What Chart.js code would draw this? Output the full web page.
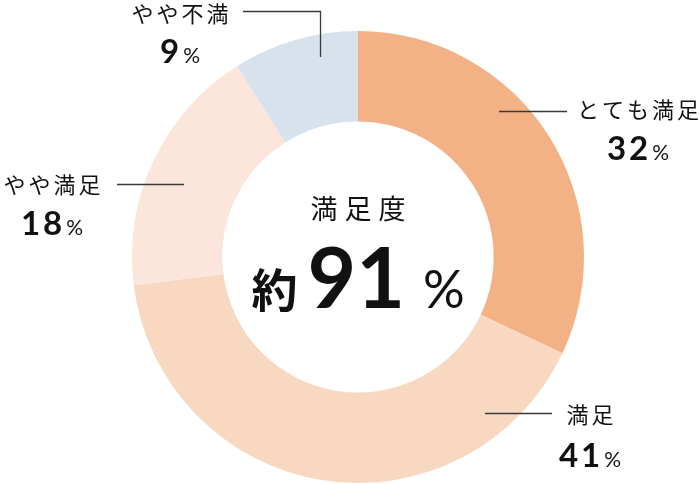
<!DOCTYPE html>
<html lang="ja">
<head>
<meta charset="utf-8">
<script src="https://cdn.jsdelivr.net/npm/chart.js@4.4.1/dist/chart.umd.min.js"></script>
<style>
  html, body { margin: 0; padding: 0; background: #fff; }
  #wrap { width: 700px; height: 484px; position: relative; }
</style>
</head>
<body>
<div id="wrap"><canvas id="myChart"></canvas></div>
<script>
const categories = ["とても満足", "満足", "やや満足", "やや不満"]
const percents = [32, 41, 18, 9]
const sliceColors = ["#F3B285", "#F8D8C1", "#FCE6DB", "#D8E2EC"]
const centerTitle = "満足度"
const centerPrefix = "約"
const centerValue = 91

const JP = '"Noto Sans CJK JP", "Noto Sans", sans-serif'
const NUM = 'Lato, "Noto Sans", sans-serif'

// callout placement: leader line path, label centre, number baseline
const callouts = [
  { line: [[499, 111.5], [567, 111.5]], cx: 638, cy: 110, numY: 160 },
  { line: [[485, 413.5], [552, 413.5]], cx: 590, cy: 415, numY: 467 },
  { line: [[117, 184.5], [184, 184.5]], cx: 52, cy: 185, numY: 235 },
  { line: [[243, 11.5], [320.5, 11.5], [320.5, 57]], cx: 180, cy: 14, numY: 63 },
]

// draw text char by char so spacing stays symmetric
function spacedWidth(ctx, text, ls) {
  let w = 0
  for (const ch of text) w += ctx.measureText(ch).width + ls
  return w - ls
}
function drawSpaced(ctx, text, x, y, ls) {
  for (const ch of text) {
    ctx.fillText(ch, x, y)
    x += ctx.measureText(ch).width + ls
  }
}

const calloutPlugin = {
  id: "callouts",
  afterDraw(chart) {
    const ctx = chart.ctx
    const meta = chart.getDatasetMeta(0)
    const cx0 = meta.data[0].x
    const cy0 = meta.data[0].y
    ctx.save()
    ctx.fillStyle = "#111"
    ctx.textAlign = "left"

    // leader lines + labels
    callouts.forEach((c, i) => {
      ctx.strokeStyle = "#3a3a3a"
      ctx.lineWidth = 1.3
      ctx.beginPath()
      c.line.forEach((p, j) => (j ? ctx.lineTo(p[0], p[1]) : ctx.moveTo(p[0], p[1])))
      ctx.stroke()

      ctx.textBaseline = "middle"
      ctx.font = "400 22px " + JP
      const lw = spacedWidth(ctx, categories[i], 3)
      drawSpaced(ctx, categories[i], c.cx - lw / 2, c.cy, 3)

      ctx.textBaseline = "alphabetic"
      const num = String(chart.data.datasets[0].data[i])
      ctx.font = "700 33px " + NUM
      const nw = spacedWidth(ctx, num, 3)
      ctx.font = "400 21px " + NUM
      const pw = ctx.measureText("%").width
      const gap = 4
      let x = c.cx - (nw + gap + pw) / 2
      ctx.font = "700 33px " + NUM
      drawSpaced(ctx, num, x, c.numY, 3)
      ctx.font = "400 21px " + NUM
      ctx.fillText("%", x + nw + gap, c.numY)
    })

    // centre text
    ctx.textBaseline = "middle"
    ctx.font = "400 27px " + JP
    const tw = spacedWidth(ctx, centerTitle, 7)
    drawSpaced(ctx, centerTitle, cx0 - tw / 2, cy0 - 48, 7)

    ctx.textBaseline = "alphabetic"
    const base = cy0 + 51
    ctx.font = "700 46px " + JP
    const aw = ctx.measureText(centerPrefix).width
    ctx.font = "700 84px " + NUM
    const vw = spacedWidth(ctx, String(centerValue), 0)
    ctx.font = "400 52px " + NUM
    const qw = ctx.measureText("%").width
    const g1 = 10, g2 = 18
    let x = cx0 - (aw + g1 + vw + g2 + qw) / 2
    ctx.font = "700 46px " + JP
    ctx.fillText(centerPrefix, x, base - 1)
    x += aw + g1
    ctx.font = "700 84px " + NUM
    drawSpaced(ctx, String(centerValue), x, base, 0)
    x += vw + g2
    ctx.font = "400 52px " + NUM
    ctx.fillText("%", x, base)
    ctx.restore()
  },
}

const ctx = document.querySelector("#myChart")
new Chart(ctx, {
  type: "doughnut",
  data: {
    labels: categories,
    datasets: [
      {
        data: percents,
        backgroundColor: sliceColors,
        borderWidth: 0,
        hoverOffset: 0,
      },
    ],
  },
  options: {
    responsive: true,
    maintainAspectRatio: false,
    animation: false,
    events: [],
    cutout: "60%",
    layout: { padding: { left: 132, right: 116, top: 31, bottom: 1 } },
    plugins: {
      legend: { display: false },
      tooltip: { enabled: false },
    },
  },
  plugins: [calloutPlugin],
})
</script>
</body>
</html>
